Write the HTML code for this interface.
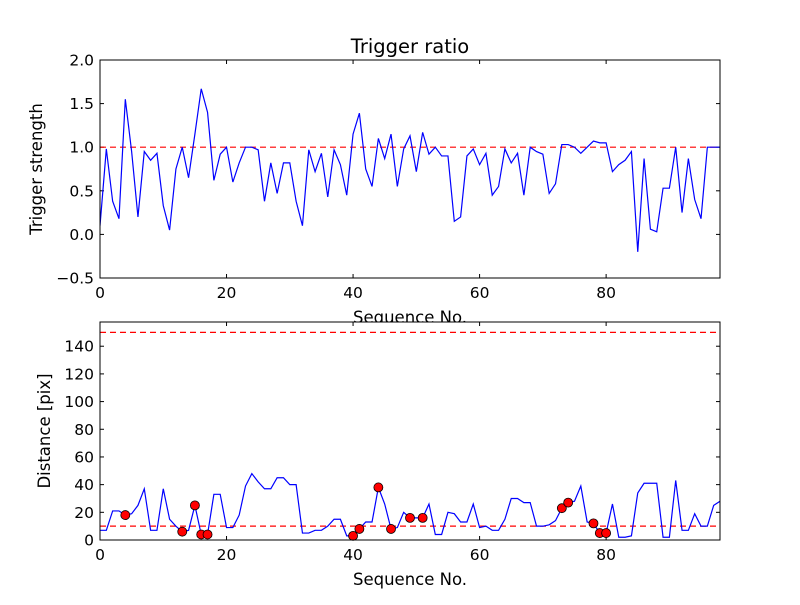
<!DOCTYPE html>
<html><head><meta charset="utf-8"><style>
body{margin:0;background:#fff}
svg{font-family:"DejaVu Sans","Liberation Sans",sans-serif}
</style></head><body>
<svg id="c" width="800" height="600" viewBox="0 0 800 600"></svg>
<script>
const seqIndex = Array.from({length:99},(_,i)=>i);
const triggerStrength = [0.1,0.98,0.38,0.18,1.55,0.95,0.2,0.95,0.85,0.93,0.33,0.05,0.75,1.0,0.65,1.15,1.67,1.4,0.62,0.92,1.0,0.6,0.82,1.0,1.0,0.97,0.38,0.82,0.47,0.82,0.82,0.38,0.1,0.97,0.72,0.93,0.43,0.97,0.8,0.45,1.15,1.39,0.75,0.55,1.1,0.87,1.15,0.55,0.98,1.13,0.72,1.17,0.92,1.0,0.9,0.9,0.15,0.2,0.9,0.98,0.8,0.93,0.45,0.55,0.98,0.82,0.93,0.45,1.0,0.95,0.92,0.47,0.58,1.03,1.03,1.0,0.93,1.0,1.07,1.05,1.05,0.72,0.8,0.85,0.95,-0.2,0.87,0.06,0.03,0.53,0.53,1.0,0.25,0.87,0.4,0.18,1.0,1.0,1.0];
const distance = [7,7,21,21,18,19,25,37,7,7,37,15,10,6,7,25,4,4,33,33,9,9,18,39,48,42,37,37,45,45,40,40,5,5,7,7,10,15,15,3,3,8,13,13,38,26,8,9,20,16,16,16,26,4,4,20,19,13,13,26,9,10,7,7,15,30,30,27,27,10,10,11,14,23,27,28,39,13,12,5,5,26,2,2,3,34,41,41,41,2,2,43,7,7,19,10,10,25,28];
const flaggedIdx = [4,13,15,16,17,40,41,44,46,49,51,73,74,78,79,80];
const topYTicks = [-0.5,0.0,0.5,1.0,1.5,2.0];
const botYTicks = [0,20,40,60,80,100,120,140];
const xTicks = [0,20,40,60,80];
const thresholdTop = [1.0];
const thresholdBot = [10,150];

const svg=document.getElementById('c');
const NS='http://www.w3.org/2000/svg';
function mk(t,a,p){const e=document.createElementNS(NS,t);for(const k in a)e.setAttribute(k,a[k]);(p||svg).appendChild(e);return e;}
const L=100,R=720,xmax=98;
const sx=v=>L+(v/xmax)*(R-L);

function panel(top,bot,ymin,ymax,yt,fmt,name,ylabel,ylx){
  const g=mk('g',{});
  
  
  const sy=v=>bot-(v-ymin)/(ymax-ymin)*(bot-top);
  mk('rect',{x:L,y:top,width:R-L,height:bot-top,fill:'#fff'},g);
  for(const t of xTicks){
    mk('line',{x1:sx(t),x2:sx(t),y1:bot,y2:bot-4,stroke:'#000'},g);
    mk('line',{x1:sx(t),x2:sx(t),y1:top,y2:top+4,stroke:'#000'},g);
    const tx=mk('text',{x:sx(t),y:bot+20,'font-size':15.5,'text-anchor':'middle'},g);tx.textContent=t;
    
    
  }
  for(const t of yt){
    mk('line',{x1:L,x2:L+4,y1:sy(t),y2:sy(t),stroke:'#000'},g);
    mk('line',{x1:R,x2:R-4,y1:sy(t),y2:sy(t),stroke:'#000'},g);
    const tx=mk('text',{x:L-6,y:sy(t)+5.5,'font-size':15.5,'text-anchor':'end'},g);tx.textContent=fmt(t);
    
    
  }
  const xl=mk('text',{x:(L+R)/2,y:bot+45,'font-size':16.5,'text-anchor':'middle'},g);xl.textContent='Sequence No.';
  
  
  const yl=mk('text',{x:0,y:0,'font-size':16.5,'text-anchor':'middle',transform:`translate(${ylx},${(top+bot)/2}) rotate(-90)`},g);yl.textContent=ylabel;
  
  
  return {g,sy};
}

const p1=panel(60,278,-0.5,2.0,topYTicks,v=>v.toFixed(1).replace('-','\u2212'),'trigger-panel','Trigger strength',42);
const cp1=mk('clipPath',{id:'cp1'});mk('rect',{x:L,y:60,width:R-L,height:218},cp1);
for(const th of thresholdTop){const l=mk('line',{x1:L,x2:R,y1:p1.sy(th),y2:p1.sy(th),stroke:'#f00','stroke-width':1.2,'stroke-dasharray':'6,4'},p1.g);
}
const l1=mk('polyline',{points:seqIndex.map(i=>sx(i)+','+p1.sy(triggerStrength[i])).join(' '),fill:'none',stroke:'#00f','stroke-width':1.2,'clip-path':'url(#cp1)'},p1.g);


mk('rect',{x:L,y:60,width:R-L,height:218,fill:'none',stroke:'#000'},p1.g);
const title=mk('text',{x:(L+R)/2,y:53,'font-size':19.5,'text-anchor':'middle'});title.textContent='Trigger ratio';



const p2=panel(322,540,0,157.5,botYTicks,v=>v,'distance-panel','Distance [pix]',50);
const cp2=mk('clipPath',{id:'cp2'});mk('rect',{x:L,y:322,width:R-L,height:218},cp2);
for(const th of thresholdBot){const l=mk('line',{x1:L,x2:R,y1:p2.sy(th),y2:p2.sy(th),stroke:'#f00','stroke-width':1.2,'stroke-dasharray':'6,4'},p2.g);
}
const l2=mk('polyline',{points:seqIndex.map(i=>sx(i)+','+p2.sy(distance[i])).join(' '),fill:'none',stroke:'#00f','stroke-width':1.2,'clip-path':'url(#cp2)'},p2.g);


for(const i of flaggedIdx){
  const c=mk('circle',{cx:sx(i),cy:p2.sy(distance[i]),r:4.5,fill:'#f00',stroke:'#000','stroke-width':0.8},p2.g);
  
  
}
mk('rect',{x:L,y:322,width:R-L,height:218,fill:'none',stroke:'#000'},p2.g);
</script>
</body></html>
